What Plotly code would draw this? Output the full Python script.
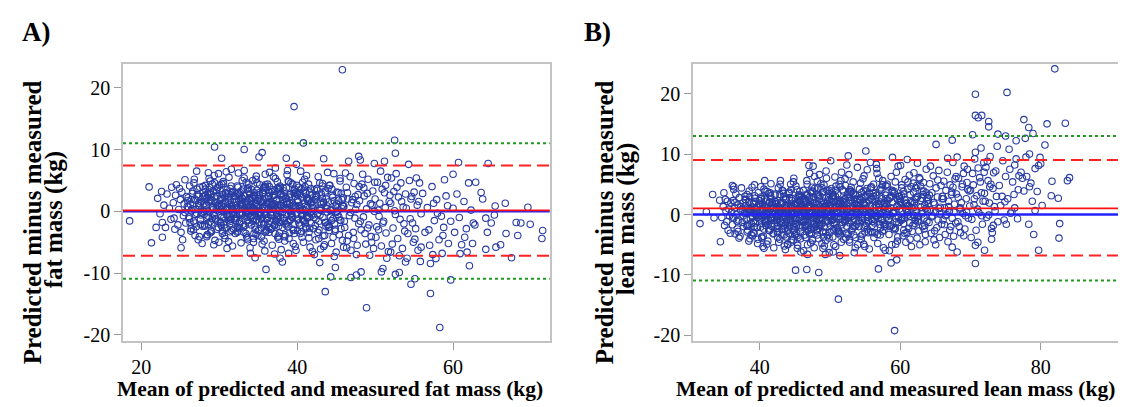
import plotly.graph_objects as go

# ---------------- Panel A: fat mass (mean, difference) ----------------
fat_x = [
 22.1,22.4,22.6,22.9,23.1,23.3,23.6,23.8,23.9,22.7,
 24.1,24.2,24.4,24.5,24.7,24.8,25.0,25.1,25.2,25.4,25.5,25.6,25.7,25.8,25.9,24.3,24.9,25.3,25.6,25.95,
 26.0,26.1,26.2,26.3,26.4,26.5,26.6,26.7,26.8,26.9,27.0,27.1,27.2,27.3,27.4,27.5,27.6,27.7,27.8,27.9,26.15,26.45,26.75,27.05,27.35,27.65,27.95,26.35,26.85,27.45,
 28.0,28.1,28.2,28.3,28.4,28.5,28.6,28.7,28.8,28.9,29.0,29.1,29.2,29.3,29.4,29.5,29.6,29.7,29.8,29.9,28.05,28.25,28.45,28.65,28.85,29.05,29.25,29.45,29.65,29.85,28.15,28.35,28.55,28.75,28.95,29.15,29.35,29.55,29.75,29.95,
 30.0,30.1,30.2,30.3,30.4,30.5,30.6,30.7,30.8,30.9,31.0,31.1,31.2,31.3,31.4,31.5,31.6,31.7,31.8,31.9,30.05,30.25,30.45,30.65,30.85,31.05,31.25,31.45,31.65,31.85,30.15,30.35,30.55,30.75,30.95,31.15,31.35,31.55,31.75,31.95,30.4,30.8,31.2,31.6,31.0,
 32.0,32.1,32.2,32.3,32.4,32.5,32.6,32.7,32.8,32.9,33.0,33.1,33.2,33.3,33.4,33.5,33.6,33.7,33.8,33.9,32.05,32.25,32.45,32.65,32.85,33.05,33.25,33.45,33.65,33.85,32.15,32.35,32.55,32.75,32.95,33.15,33.35,33.55,33.75,33.95,32.2,32.6,33.0,33.4,33.8,32.4,32.8,33.2,33.6,33.9,
 34.0,34.1,34.2,34.3,34.4,34.5,34.6,34.7,34.8,34.9,35.0,35.1,35.2,35.3,35.4,35.5,35.6,35.7,35.8,35.9,34.05,34.25,34.45,34.65,34.85,35.05,35.25,35.45,35.65,35.85,34.15,34.35,34.55,34.75,34.95,35.15,35.35,35.55,35.75,35.95,34.2,34.6,35.0,35.4,35.8,34.4,34.8,35.2,35.6,34.0,34.5,35.1,35.5,35.9,34.3,
 36.0,36.1,36.2,36.3,36.4,36.5,36.6,36.7,36.8,36.9,37.0,37.1,37.2,37.3,37.4,37.5,37.6,37.7,37.8,37.9,36.05,36.25,36.45,36.65,36.85,37.05,37.25,37.45,37.65,37.85,36.15,36.35,36.55,36.75,36.95,37.15,37.35,37.55,37.75,37.95,36.2,36.6,37.0,37.4,37.8,36.4,36.8,37.2,37.6,36.0,36.5,37.1,37.5,37.9,36.3,
 38.0,38.1,38.2,38.3,38.4,38.5,38.6,38.7,38.8,38.9,39.0,39.1,39.2,39.3,39.4,39.5,39.6,39.7,39.8,39.9,38.05,38.25,38.45,38.65,38.85,39.05,39.25,39.45,39.65,39.85,38.15,38.35,38.55,38.75,38.95,39.15,39.35,39.55,39.75,39.95,38.2,38.6,39.0,39.4,39.8,38.4,38.8,39.2,39.6,38.9,
 40.0,40.1,40.2,40.3,40.4,40.5,40.6,40.7,40.8,40.9,41.0,41.1,41.2,41.3,41.4,41.5,41.6,41.7,41.8,41.9,40.05,40.25,40.45,40.65,40.85,41.05,41.25,41.45,41.65,41.85,40.15,40.35,40.55,40.75,40.95,41.15,41.35,41.55,41.75,41.95,40.4,40.8,41.2,41.6,41.0,
 42.0,42.1,42.2,42.3,42.4,42.5,42.6,42.7,42.8,42.9,43.0,43.1,43.2,43.3,43.4,43.5,43.6,43.7,43.8,43.9,42.05,42.35,42.65,42.95,43.25,43.55,43.85,42.2,42.5,42.8,43.1,43.4,43.7,42.4,42.9,43.3,43.6,43.95,
 44.0,44.1,44.2,44.3,44.4,44.5,44.6,44.7,44.8,44.9,45.0,45.1,45.2,45.3,45.4,45.5,45.6,45.7,45.8,45.9,44.15,44.45,44.75,45.05,45.35,45.65,45.95,44.3,44.9,45.5,45.8,44.6,
 46.0,46.1,46.3,46.4,46.5,46.7,46.8,46.9,47.0,47.2,47.3,47.4,47.5,47.7,47.8,47.9,46.2,46.6,47.1,47.6,46.05,46.45,46.85,47.25,47.65,47.95,46.35,47.45,
 48.0,48.2,48.3,48.5,48.6,48.8,48.9,49.1,49.2,49.4,49.5,49.7,49.8,49.9,48.1,48.4,48.7,49.0,49.3,49.6,48.55,49.05,49.55,49.95,
 50.0,50.2,50.3,50.5,50.6,50.8,50.9,51.1,51.3,51.4,51.6,51.7,51.9,50.1,50.4,50.7,51.0,51.2,51.5,51.8,50.45,51.35,
 52.0,52.1,52.3,52.4,52.6,52.7,52.9,53.0,53.2,53.3,53.5,53.6,53.8,53.9,52.2,52.5,52.8,53.1,53.4,53.7,
 54.0,54.2,54.4,54.5,54.7,54.9,55.0,55.2,55.4,55.5,55.7,55.9,54.1,54.6,55.1,55.6,54.8,55.3,
 56.1,56.4,56.7,57.0,57.3,57.6,57.9,58.2,58.5,58.8,59.1,59.4,59.7,56.9,57.5,58.0,58.7,59.3,
 60.2,60.5,60.8,61.1,61.4,61.7,62.0,62.3,62.6,62.9,60.0,61.5,
]
fat_y = [
 2.1,-0.4,3.2,1.0,-2.6,2.8,0.5,-1.3,3.9,-1.8,
 1.4,-1.1,2.6,4.3,-2.2,0.3,1.9,-3.4,3.1,-0.7,1.2,5.1,-1.9,2.4,0.8,-2.9,3.7,-4.6,-0.2,1.7,
 2.2,-0.9,4.1,1.1,-2.8,0.4,3.3,-1.6,5.2,-3.9,1.8,-0.3,2.7,-4.6,0.9,3.9,-2.1,1.5,-5.2,2.4,-1.2,0.1,4.6,-2.5,1.3,-0.6,3.0,-3.2,2.0,-4.1,
 1.2,-2.4,3.6,0.2,-4.1,2.8,-0.8,5.3,-1.7,1.9,-3.3,4.4,0.6,-5.4,2.3,-1.2,3.0,-2.9,0.9,6.1,-0.5,2.6,-3.8,1.4,4.9,-1.9,0.3,-4.7,3.4,1.0,-2.2,2.0,-0.1,3.9,-3.1,0.7,5.8,-1.4,2.5,-5.0,
 0.8,3.4,-1.9,2.1,-3.6,4.8,0.1,-2.7,1.6,6.4,-0.6,2.9,-4.9,1.1,3.7,-1.3,0.4,-5.6,2.5,-0.2,4.2,-2.3,1.3,-3.9,2.8,0.6,5.5,-1.6,3.2,-2.9,1.9,-0.9,4.5,-4.4,0.2,2.3,-2.0,6.8,-0.4,1.5,-3.2,3.0,-1.1,0.9,-6.0,
 2.4,-1.5,0.6,4.1,-3.2,1.7,-0.3,3.0,-5.1,2.2,0.9,-2.5,5.4,-0.8,1.4,-4.0,3.6,0.0,-1.9,2.7,-3.6,1.0,6.2,-0.5,3.3,-2.1,0.4,4.7,-4.6,1.9,-1.2,2.9,-2.8,0.7,5.0,-3.4,1.6,-0.9,3.8,-5.9,0.3,-1.7,2.0,-0.2,4.4,-2.6,1.2,6.6,-4.3,0.5,
 1.1,-2.2,3.5,0.3,-4.4,2.6,-0.7,5.2,-1.4,0.8,-3.1,2.0,4.3,-0.1,1.6,-5.3,3.1,-2.0,0.5,6.0,-1.0,2.3,-3.6,1.3,4.6,-0.4,0.9,-2.7,3.4,-6.4,1.8,-1.6,0.0,5.7,-3.9,2.7,-0.6,1.5,-4.8,3.9,0.6,-2.4,2.1,-1.2,4.0,-5.0,1.0,-0.3,2.8,-6.8,3.0,-1.8,0.2,-3.4,5.0,
 2.0,-1.3,4.4,0.5,-3.4,1.5,-0.2,3.2,-5.5,2.6,0.7,-2.3,5.3,-0.9,1.9,-4.2,3.7,0.1,-1.8,2.9,-3.0,1.2,6.3,-0.6,3.5,-2.2,0.4,4.8,-4.5,1.0,-1.1,2.4,-2.9,0.9,5.6,-3.6,1.7,-0.8,3.9,-6.2,0.3,-1.6,2.2,-0.3,4.1,-2.6,1.1,7.0,-4.0,-0.5,3.0,-6.9,0.6,-1.0,2.5,
 0.9,-2.6,3.8,1.4,-4.1,2.1,-0.5,5.9,-1.7,0.2,-3.5,2.7,4.6,-0.9,1.3,-5.2,3.3,-2.1,0.6,7.6,-0.2,2.5,-3.8,1.6,4.9,-1.3,0.0,-2.9,3.6,-6.3,1.9,-1.5,0.4,6.6,-4.4,2.8,-0.7,1.0,-5.7,4.2,0.7,-2.2,2.3,-1.0,3.1,-4.8,1.2,-0.4,2.9,-6.8,
 1.8,-1.4,3.9,0.4,-3.6,2.3,-0.6,4.7,-5.0,1.2,0.1,-2.5,5.8,-1.1,2.0,-4.3,3.1,-0.2,-1.9,2.6,-3.1,0.9,6.5,-0.7,3.4,-2.0,0.6,4.4,-5.8,1.5,-1.2,2.9,-3.3,0.3,5.2,-2.8,1.7,-0.9,3.7,-6.5,0.7,-1.5,2.2,-0.3,4.0,
 0.6,-2.8,3.5,1.9,-4.6,2.4,-0.4,5.6,-1.6,0.2,-6.1,2.8,4.1,-1.0,1.4,-5.4,3.0,-2.4,0.9,6.3,-0.6,2.2,-3.4,1.5,4.5,-1.8,-0.1,-7.0,3.7,-3.0,1.1,-5.7,2.0,-1.3,0.5,-4.0,3.3,-2.2,
 1.5,-3.1,4.2,0.3,-5.2,2.6,-1.2,6.1,-2.0,0.9,-6.6,3.1,-0.5,1.8,-3.8,4.9,-1.5,0.5,-4.7,2.2,-2.5,3.6,-7.3,1.2,-0.9,2.9,-5.8,0.1,-2.9,5.3,1.0,-4.2,
 0.8,-2.6,3.9,-4.8,2.0,-0.7,5.6,-6.3,1.4,-3.4,4.5,-1.1,0.3,-5.5,2.7,-2.0,6.2,-3.9,1.9,-7.0,-1.6,3.0,-0.2,-4.4,1.1,4.0,-5.9,2.4,
 1.7,-3.0,4.4,-0.9,2.5,-5.3,0.4,5.2,-2.2,1.2,-4.1,3.3,-6.0,0.0,-1.6,6.0,-3.6,2.9,-7.1,1.0,3.8,-2.7,-5.0,4.7,
 2.0,-2.5,4.7,-0.8,1.3,-5.6,3.6,-1.6,0.6,-3.5,5.5,-6.5,2.6,-4.2,0.2,6.5,-1.9,3.0,-7.6,1.6,-3.0,4.2,
 1.3,5.4,-2.7,3.2,-0.5,6.1,-4.4,2.3,-1.3,4.6,-6.0,0.7,-3.2,2.8,-5.3,0.1,3.9,-7.2,1.6,-2.0,
 0.5,-3.6,5.0,-1.2,2.4,-5.0,3.1,-2.8,1.0,-6.3,4.6,-0.4,-7.6,2.0,-4.5,1.6,-1.9,5.4,
 2.9,-3.4,0.6,-5.5,4.0,-1.5,1.9,-4.6,-0.8,-2.6,2.5,-5.2,-1.6,-3.0,1.3,-0.3,-3.9,0.9,
 -3.4,2.8,-1.0,-5.4,1.6,-2.8,4.6,0.2,-1.9,4.7,0.5,-4.2,
]
# extra points of the dense central cloud
fat_x_dense = [
 26.05,26.25,26.55,26.95,27.15,27.55,27.85,28.02,28.22,28.42,28.62,28.82,29.02,29.22,29.42,29.62,29.82,26.4,26.7,27.0,27.3,27.6,27.9,28.3,28.6,28.9,29.2,29.5,29.8,26.9,27.4,27.8,28.1,28.5,28.8,29.1,29.4,29.7,29.9,28.7,
 30.02,30.22,30.42,30.62,30.82,31.02,31.22,31.42,31.62,31.82,32.02,32.22,32.42,32.62,32.82,33.02,33.22,33.42,33.62,33.82,30.12,30.32,30.52,30.72,30.92,31.12,31.32,31.52,31.72,31.92,32.12,32.32,32.52,32.72,32.92,33.12,33.32,33.52,33.72,33.92,30.6,31.1,31.7,32.3,32.9,33.5,30.3,31.4,32.6,33.7,
 34.02,34.22,34.42,34.62,34.82,35.02,35.22,35.42,35.62,35.82,36.02,36.22,36.42,36.62,36.82,37.02,37.22,37.42,37.62,37.82,34.12,34.32,34.52,34.72,34.92,35.12,35.32,35.52,35.72,35.92,36.12,36.32,36.52,36.72,36.92,37.12,37.32,37.52,37.72,37.92,34.6,35.1,35.7,36.3,36.9,37.5,34.3,35.4,36.6,37.7,
 38.02,38.22,38.42,38.62,38.82,39.02,39.22,39.42,39.62,39.82,40.02,40.22,40.42,40.62,40.82,41.02,41.22,41.42,41.62,41.82,38.12,38.32,38.52,38.72,38.92,39.12,39.32,39.52,39.72,39.92,40.12,40.32,40.52,40.72,40.92,41.12,41.32,41.52,41.72,41.92,38.6,39.3,40.1,40.7,41.5,
 42.02,42.32,42.62,42.92,43.22,43.52,43.82,44.12,44.42,44.72,45.02,45.32,45.62,45.92,42.17,42.47,42.77,43.07,43.37,43.67,43.97,44.27,44.57,44.87,45.17,45.47,45.77,42.9,44.0,45.1,
]
fat_y_dense = [
 0.7,-1.8,2.9,-0.5,3.6,1.2,-2.4,0.0,4.2,-1.0,2.2,-3.5,1.7,3.3,-0.7,0.5,-1.6,1.9,-3.0,0.3,2.4,-1.3,4.0,1.0,-2.1,2.7,-0.4,1.4,3.8,-1.9,0.9,-0.2,2.5,-3.8,1.6,-1.1,4.6,0.2,-2.6,3.1,
 1.3,-0.6,2.7,-2.2,0.4,3.5,-1.4,1.8,-3.1,0.1,2.0,-0.9,3.9,-2.0,1.1,-0.3,2.5,-3.6,0.7,3.2,-1.7,0.9,-0.1,2.3,-2.7,1.5,-0.8,4.1,0.3,-1.2,2.8,-3.4,0.5,1.9,-0.6,3.6,-2.3,1.0,-0.4,2.1,-1.0,0.6,3.0,-2.5,1.4,-0.2,4.4,-3.3,2.6,-1.5,
 -0.8,2.2,0.5,-2.9,3.4,-0.2,1.6,-1.9,2.9,0.8,-3.2,1.2,4.0,-0.6,0.3,2.6,-1.5,3.7,-2.4,1.0,0.0,-1.2,2.4,-3.7,1.7,3.0,-0.5,0.7,-2.2,4.3,1.5,-0.9,2.0,-2.8,0.4,3.3,-1.7,1.1,-3.5,2.7,0.2,-0.7,3.8,-2.0,1.3,-1.1,2.1,-4.1,0.9,3.5,
 2.3,-1.1,0.6,3.8,-2.5,1.4,-0.3,4.4,-3.6,0.9,2.7,-1.9,0.1,-4.2,1.8,3.1,-0.7,2.0,-2.7,0.5,-0.1,3.3,-2.0,1.1,4.8,-1.4,0.8,-3.1,2.4,-0.5,1.6,-2.3,3.6,0.2,-1.6,2.9,-0.9,-3.4,1.3,0.0,2.1,-0.4,3.0,-1.3,1.7,
 1.0,-2.3,3.4,-0.6,2.1,-3.9,0.4,4.2,-1.5,1.7,-0.2,3.0,-2.8,0.8,-1.0,2.6,-4.4,0.2,1.5,-1.8,3.7,-0.9,2.3,-3.2,0.6,-1.4,1.9,4.6,-2.6,0.0,
]
fat_out_x = [45.8,39.6,40.8,52.5,29.4,33.2,52.6,35.5,35.1,30.3,
 38.6,47.9,48.1,46.6,43.4,49.9,51.2,54.3,60.7,64.5,
 27.1,28.6,21.0,18.5,21.3,21.9,22.7,25.1,71.5,71.4,
 69.9,69.6,66.7,67.5,68.3,68.1,68.7,66.8,66.1,65.5,
 64.4,64.2,64.9,64.2,65.3,65.4,63.6,63.8,62.1,61.8,
 62.8,62.5,60.9,59.7,60.0,58.9,58.3,57.1,54.6,55.1,
 48.9,43.6,36.0,34.6,37.8,38.1,42.9,44.3,44.9,46.9,
 47.6,48.2,50.8,51.0,52.6,53.1,53.9,57.1,57.4,57.8,
 58.6,52.0,55.9,55.8]
fat_out_y = [22.9,16.95,11.07,11.5,10.4,10.0,9.4,9.5,8.8,8.6,
 8.6,8.9,8.3,8.1,8.5,7.75,8.1,7.6,7.9,7.75,
 6.5,6.25,3.95,-1.55,-5.1,-2.6,-4.2,-5.9,-3.1,-4.4,
 -2.1,0.65,1.3,-7.5,-3.9,-1.8,-1.9,-3.6,-5.4,-5.8,
 -3.4,-6.15,-1.9,-1.1,-0.6,0.85,3.05,2.0,-8.8,-6.6,
 -2.2,-5.2,-6.85,-11.1,6.0,5.1,-18.8,-13.3,-11.8,-10.9,
 -15.6,-13.0,-9.4,-7.5,-7.6,-8.2,-8.3,-10.6,-9.1,-10.7,
 -10.3,-9.8,-9.8,-9.25,-10.2,-9.9,-8.2,-8.45,-7.0,-7.65,
 -6.8,-6.6,-5.8,-8.1]

# ---------------- Panel B: lean mass (mean, difference) ----------------
lean_x = [
 34.6,34.8,35.0,35.2,35.4,35.5,35.7,35.9,34.9,35.3,35.6,35.8,
 36.0,36.1,36.2,36.3,36.4,36.5,36.6,36.7,36.8,36.9,37.0,37.1,37.2,37.3,37.4,37.5,37.6,37.7,37.8,37.9,36.15,36.45,36.75,37.05,37.35,37.65,37.95,36.3,36.9,37.5,
 38.0,38.1,38.2,38.3,38.4,38.5,38.6,38.7,38.8,38.9,39.0,39.1,39.2,39.3,39.4,39.5,39.6,39.7,39.8,39.9,38.05,38.35,38.65,38.95,39.25,39.55,39.85,38.2,38.5,38.8,39.1,39.4,39.7,38.45,39.35,
 40.0,40.1,40.2,40.3,40.4,40.5,40.6,40.7,40.8,40.9,41.0,41.1,41.2,41.3,41.4,41.5,41.6,41.7,41.8,41.9,40.05,40.25,40.45,40.65,40.85,41.05,41.25,41.45,41.65,41.85,40.15,40.35,40.55,40.75,40.95,41.15,41.35,41.55,41.75,41.95,40.6,41.4,
 42.0,42.1,42.2,42.3,42.4,42.5,42.6,42.7,42.8,42.9,43.0,43.1,43.2,43.3,43.4,43.5,43.6,43.7,43.8,43.9,42.05,42.25,42.45,42.65,42.85,43.05,43.25,43.45,43.65,43.85,42.15,42.35,42.55,42.75,42.95,43.15,43.35,43.55,43.75,43.95,42.4,42.8,43.2,43.6,42.0,42.6,43.0,43.8,
 44.0,44.1,44.2,44.3,44.4,44.5,44.6,44.7,44.8,44.9,45.0,45.1,45.2,45.3,45.4,45.5,45.6,45.7,45.8,45.9,44.05,44.25,44.45,44.65,44.85,45.05,45.25,45.45,45.65,45.85,44.15,44.35,44.55,44.75,44.95,45.15,45.35,45.55,45.75,45.95,44.2,44.6,45.0,45.4,45.8,44.4,44.8,45.2,45.6,44.0,44.5,45.3,
 46.0,46.1,46.2,46.3,46.4,46.5,46.6,46.7,46.8,46.9,47.0,47.1,47.2,47.3,47.4,47.5,47.6,47.7,47.8,47.9,46.05,46.25,46.45,46.65,46.85,47.05,47.25,47.45,47.65,47.85,46.15,46.35,46.55,46.75,46.95,47.15,47.35,47.55,47.75,47.95,46.2,46.6,47.0,47.4,47.8,46.4,46.8,47.2,47.6,46.0,46.5,47.1,47.5,47.9,46.3,
 48.0,48.1,48.2,48.3,48.4,48.5,48.6,48.7,48.8,48.9,49.0,49.1,49.2,49.3,49.4,49.5,49.6,49.7,49.8,49.9,48.05,48.25,48.45,48.65,48.85,49.05,49.25,49.45,49.65,49.85,48.15,48.35,48.55,48.75,48.95,49.15,49.35,49.55,49.75,49.95,48.2,48.6,49.0,49.4,49.8,48.4,48.8,49.2,49.6,48.0,48.5,49.1,49.5,49.9,48.3,
 50.0,50.1,50.2,50.3,50.4,50.5,50.6,50.7,50.8,50.9,51.0,51.1,51.2,51.3,51.4,51.5,51.6,51.7,51.8,51.9,50.05,50.25,50.45,50.65,50.85,51.05,51.25,51.45,51.65,51.85,50.15,50.35,50.55,50.75,50.95,51.15,51.35,51.55,51.75,51.95,50.2,50.6,51.0,51.4,51.8,50.4,50.8,51.2,51.6,50.0,
 52.0,52.1,52.2,52.3,52.4,52.5,52.6,52.7,52.8,52.9,53.0,53.1,53.2,53.3,53.4,53.5,53.6,53.7,53.8,53.9,52.05,52.25,52.45,52.65,52.85,53.05,53.25,53.45,53.65,53.85,52.15,52.35,52.55,52.75,52.95,53.15,53.35,53.55,53.75,53.95,52.2,52.6,53.0,53.4,53.8,52.4,52.8,53.6,
 54.0,54.1,54.2,54.3,54.4,54.5,54.6,54.7,54.8,54.9,55.0,55.1,55.2,55.3,55.4,55.5,55.6,55.7,55.8,55.9,54.05,54.25,54.45,54.65,54.85,55.05,55.25,55.45,55.65,55.85,54.15,54.35,54.55,54.75,54.95,55.15,55.35,55.55,55.75,55.95,54.2,54.6,55.0,55.4,55.8,
 56.0,56.1,56.2,56.3,56.4,56.5,56.6,56.7,56.8,56.9,57.0,57.1,57.2,57.3,57.4,57.5,57.6,57.7,57.8,57.9,56.05,56.25,56.45,56.65,56.85,57.05,57.25,57.45,57.65,57.85,56.15,56.35,56.55,56.75,56.95,57.15,57.35,57.55,57.75,57.95,56.6,57.4,
 58.0,58.1,58.2,58.3,58.4,58.5,58.6,58.7,58.8,58.9,59.0,59.1,59.2,59.3,59.4,59.5,59.6,59.7,59.8,59.9,58.05,58.25,58.45,58.65,58.85,59.05,59.25,59.45,59.65,59.85,58.15,58.35,58.55,58.75,58.95,59.15,59.35,59.55,59.75,59.95,
 60.0,60.1,60.2,60.3,60.4,60.5,60.6,60.7,60.8,60.9,61.0,61.1,61.2,61.3,61.4,61.5,61.6,61.7,61.8,61.9,60.05,60.35,60.65,60.95,61.25,61.55,61.85,60.2,60.5,60.8,61.1,61.4,61.7,60.15,60.45,61.05,61.35,61.95,
 62.0,62.1,62.2,62.3,62.4,62.5,62.6,62.7,62.8,62.9,63.0,63.1,63.2,63.3,63.4,63.5,63.6,63.7,63.8,63.9,62.05,62.35,62.65,62.95,63.25,63.55,63.85,62.2,62.5,62.8,63.1,63.4,63.7,62.45,
 64.0,64.1,64.2,64.3,64.4,64.5,64.6,64.7,64.8,64.9,65.0,65.1,65.2,65.3,65.4,65.5,65.6,65.7,65.8,65.9,64.15,64.45,64.75,65.05,65.35,65.65,65.95,64.3,64.9,65.5,
 66.0,66.1,66.2,66.3,66.4,66.5,66.6,66.7,66.8,66.9,67.0,67.1,67.2,67.3,67.4,67.5,67.6,67.7,67.8,67.9,66.15,66.45,66.75,67.05,67.35,67.65,67.95,66.3,66.9,67.5,
 68.0,68.2,68.3,68.5,68.6,68.8,68.9,69.1,69.2,69.4,69.5,69.7,69.8,69.9,68.1,68.4,68.7,69.0,69.3,69.6,68.55,69.05,69.55,68.25,68.85,69.45,
 70.0,70.2,70.3,70.5,70.6,70.8,70.9,71.1,71.2,71.4,71.5,71.7,71.8,71.9,70.1,70.4,70.7,71.0,71.3,71.6,70.55,71.05,71.55,71.95,
 72.0,72.2,72.3,72.5,72.7,72.8,73.0,73.2,73.3,73.5,73.7,73.8,73.9,72.1,72.4,72.6,72.9,73.1,73.4,73.6,72.75,73.25,
 74.1,74.3,74.6,74.8,75.0,75.3,75.5,75.7,76.0,76.2,76.5,76.7,76.9,74.5,75.1,75.6,76.3,76.8,74.9,75.9,
 77.2,77.6,78.0,78.4,78.8,79.2,77.9,78.6,79.5,77.4,
]
lean_y = [
 -0.5,1.3,-1.8,0.6,2.2,-2.6,-0.2,1.9,3.6,-1.2,0.9,-3.1,
 0.4,-1.7,2.3,-0.6,1.1,-3.2,3.4,0.0,-2.4,1.6,-0.9,2.8,-3.6,0.7,4.4,-1.3,1.9,-2.0,0.2,3.0,-0.4,2.0,-1.1,-3.9,1.3,-0.2,2.5,4.6,-2.8,0.9,
 1.5,-0.8,3.3,-2.6,0.4,2.1,-4.0,0.9,-1.5,4.5,-0.3,1.8,-3.1,2.7,0.1,-2.2,1.2,-4.8,3.6,-0.7,2.4,-1.9,0.6,-3.5,4.9,-0.1,1.7,-2.9,3.9,0.3,-1.2,2.2,-0.5,-4.4,1.0,
 0.6,-2.1,2.9,-0.4,1.7,-3.6,4.2,0.0,-1.4,2.2,-4.9,1.1,-0.8,3.5,-2.7,0.8,5.1,-1.0,1.9,-3.2,-0.2,2.6,-5.3,1.3,-1.8,3.8,0.3,-2.4,1.5,-0.6,4.6,-3.9,0.9,-1.2,2.4,-4.4,0.5,3.1,-2.0,1.0,-5.6,2.0,
 1.2,-1.6,3.4,-0.2,0.9,-3.0,2.3,-4.6,0.4,5.0,-1.1,1.8,-2.5,3.9,-0.5,-5.2,1.4,2.7,-3.7,0.1,-0.9,2.1,-2.0,4.4,-4.1,0.7,-1.4,2.9,-5.8,1.5,3.2,-0.3,-2.8,1.0,5.6,-3.4,0.3,-1.9,2.5,-4.9,1.7,-0.7,4.0,-2.3,-5.5,0.2,2.0,-1.2,
 0.8,-2.4,3.7,-0.6,1.5,-4.2,2.6,-1.2,5.4,0.2,-3.3,1.9,-0.1,4.1,-5.1,0.9,-1.8,3.0,-2.9,1.3,-0.4,2.8,-4.6,0.5,6.0,-1.5,1.2,-3.8,2.2,-6.2,3.5,-0.9,0.3,-2.6,1.7,4.7,-5.6,0.0,2.4,-1.1,-3.1,1.0,-0.7,2.0,-4.0,5.0,-2.0,0.6,3.3,-5.0,1.1,-1.6,
 1.4,-1.9,4.0,0.1,-3.4,2.3,-0.8,5.6,-5.0,1.0,-0.3,2.9,-2.2,3.6,0.6,-4.3,1.8,-1.4,6.3,-0.1,2.5,-6.0,0.4,3.2,-2.7,1.3,-4.7,4.5,-0.6,2.0,-1.2,0.8,-3.8,5.0,-0.4,1.6,-2.4,3.9,-5.5,0.3,2.7,-1.7,0.0,-3.1,4.3,1.1,-6.6,2.1,-0.9,3.0,-2.0,6.8,-4.0,0.7,-1.0,
 0.9,-2.5,3.3,1.6,-4.0,2.6,-0.5,5.1,-1.6,0.3,-5.6,3.8,-0.2,1.9,-3.0,6.0,0.6,-1.1,2.8,-6.3,-0.7,4.4,-2.3,1.2,-4.8,2.2,0.0,7.2,-3.5,1.5,-1.4,3.1,-0.9,0.5,-2.9,4.9,-6.6,1.8,-0.3,2.4,5.5,-1.8,0.8,-4.3,3.5,-0.1,2.0,-5.2,1.0,-2.0,6.6,-3.7,0.2,4.0,-1.0,
 1.6,-1.8,4.3,0.2,-3.7,2.9,-0.4,6.2,-5.3,1.1,0.4,3.4,-2.6,5.0,-0.8,2.1,-4.6,1.4,-1.3,3.9,-0.2,2.6,-6.2,0.9,4.7,-2.2,1.8,-3.4,7.0,0.0,-1.0,3.0,-5.0,1.3,-0.6,2.4,-2.9,5.6,0.6,-4.1,3.6,-1.6,0.7,-6.8,2.2,-0.9,4.0,-3.1,1.9,-0.1,
 2.1,-1.2,4.8,0.5,-3.2,3.3,-0.2,6.6,-4.6,1.4,0.0,3.8,-2.3,5.4,-0.7,2.5,-5.5,1.7,-1.6,7.8,0.9,-3.9,2.8,-0.5,4.1,-2.7,1.2,-6.3,3.2,0.3,5.9,-1.9,0.8,-4.2,2.3,-0.3,3.6,-2.0,1.0,-5.0,2.6,-1.0,4.5,-3.4,1.5,8.2,-1.4,0.4,
 1.0,-2.0,4.2,0.6,-3.6,2.8,-0.6,5.9,-4.9,1.7,0.3,3.1,-1.5,7.4,-0.1,2.3,-5.7,1.4,-2.8,4.6,-0.9,2.6,-4.1,0.8,6.4,-1.8,1.9,-3.0,3.5,0.1,-1.2,5.2,-0.4,2.0,-5.3,3.9,-2.4,0.5,8.6,-0.8,1.3,-3.3,2.9,-1.0,4.4,
 2.4,-1.1,5.0,0.4,-3.0,3.6,-0.3,6.8,-4.8,1.6,0.7,4.1,-2.2,2.9,-0.8,5.6,-5.5,1.9,-1.6,3.2,0.0,-3.8,2.2,7.6,-0.6,1.2,4.4,-2.8,0.9,-5.9,3.0,-1.4,1.5,-0.2,6.0,-3.4,2.6,0.3,-2.0,4.8,8.3,-0.9,
 1.8,-1.7,4.6,0.9,-3.3,2.7,-0.2,6.3,-5.0,2.0,0.4,3.5,-2.5,5.4,-0.7,1.3,-4.4,8.0,-1.3,3.0,-0.4,2.4,-6.0,1.1,4.0,-2.2,0.6,7.0,-3.7,1.6,5.0,-0.9,2.8,-1.9,0.2,3.8,-4.9,1.4,-0.5,2.2,
 2.6,-1.0,4.9,0.6,-3.5,3.4,-0.5,5.8,-4.6,1.8,0.3,4.2,-2.3,6.5,-0.3,2.1,-5.3,1.1,-1.8,3.7,8.1,-0.8,2.4,-3.0,1.4,4.6,-0.1,3.1,-2.6,0.9,5.4,-4.1,2.0,-0.7,3.8,1.5,-1.4,6.9,
 1.9,-1.5,4.4,0.7,-3.9,3.0,-0.3,6.1,-5.0,2.3,0.5,3.9,-2.0,5.3,-0.6,1.6,-3.3,7.5,-1.1,2.8,-0.2,4.8,-2.7,1.2,3.3,-4.5,0.8,2.5,-1.2,5.9,0.1,-2.4,3.6,8.5,
 2.4,-1.3,5.1,0.8,-3.1,3.6,-0.2,6.4,-4.2,1.7,0.4,4.4,-2.2,2.9,-0.9,7.3,-3.8,1.2,4.8,-1.6,3.2,-0.4,2.0,-5.0,5.7,0.1,2.6,8.0,-2.7,1.0,
 3.0,-0.9,5.5,1.1,-3.3,4.0,0.0,7.0,-4.5,2.2,0.6,4.9,-2.0,3.3,-0.6,8.6,-3.6,1.7,5.9,-1.4,2.6,-0.2,9.3,-2.6,3.7,0.4,6.3,-1.7,1.3,4.5,
 3.4,-1.2,6.0,0.9,-3.0,4.6,0.2,8.0,-2.4,2.6,5.3,-0.6,3.9,1.4,9.5,-2.0,2.0,6.8,-0.2,4.2,1.1,-3.5,7.5,2.8,5.0,0.4,
 4.0,-0.8,6.8,1.6,9.2,-2.6,3.1,7.7,0.3,5.4,11.0,-1.6,2.2,8.6,-3.8,4.9,10.3,0.9,6.1,-0.2,2.6,-4.6,3.6,7.0,
 3.5,7.8,-0.5,5.6,1.9,9.6,-2.3,4.3,6.9,0.6,3.0,11.3,-1.2,2.2,8.8,-0.1,5.0,-3.0,1.3,7.2,4.6,-1.8,
 4.8,1.5,8.9,-0.9,6.3,2.6,10.8,0.2,5.4,3.3,9.2,-0.7,6.4,3.0,-1.6,7.5,1.1,4.1,2.1,0.5,
 7.0,3.9,6.3,4.6,2.2,7.6,9.5,5.2,3.8,6.0,
]
# extra points of the dense central cloud
lean_x_dense = [
 38.07,38.27,38.47,38.67,38.87,39.07,39.27,39.47,39.67,39.87,40.07,40.27,40.47,40.67,40.87,41.07,41.27,41.47,41.67,41.87,38.17,38.37,38.57,38.77,38.97,39.17,39.37,39.57,39.77,39.97,40.17,40.37,40.57,40.77,40.97,41.17,41.37,41.57,41.77,41.97,38.5,39.2,40.0,40.8,41.6,
 42.07,42.27,42.47,42.67,42.87,43.07,43.27,43.47,43.67,43.87,44.07,44.27,44.47,44.67,44.87,45.07,45.27,45.47,45.67,45.87,42.17,42.37,42.57,42.77,42.97,43.17,43.37,43.57,43.77,43.97,44.17,44.37,44.57,44.77,44.97,45.17,45.37,45.57,45.77,45.97,42.5,43.3,44.1,44.9,45.7,42.9,43.7,44.5,45.3,46.0,
 46.07,46.27,46.47,46.67,46.87,47.07,47.27,47.47,47.67,47.87,48.07,48.27,48.47,48.67,48.87,49.07,49.27,49.47,49.67,49.87,46.17,46.37,46.57,46.77,46.97,47.17,47.37,47.57,47.77,47.97,48.17,48.37,48.57,48.77,48.97,49.17,49.37,49.57,49.77,49.97,46.5,47.3,48.1,48.9,49.7,46.9,47.7,48.5,49.3,50.0,
 50.07,50.27,50.47,50.67,50.87,51.07,51.27,51.47,51.67,51.87,52.07,52.27,52.47,52.67,52.87,53.07,53.27,53.47,53.67,53.87,50.17,50.37,50.57,50.77,50.97,51.17,51.37,51.57,51.77,51.97,52.17,52.37,52.57,52.77,52.97,53.17,53.37,53.57,53.77,53.97,50.5,51.3,52.1,52.9,53.7,
 54.07,54.27,54.47,54.67,54.87,55.07,55.27,55.47,55.67,55.87,56.07,56.27,56.47,56.67,56.87,57.07,57.27,57.47,57.67,57.87,54.17,54.37,54.57,54.77,54.97,55.17,55.37,55.57,55.77,55.97,56.17,56.37,56.57,56.77,56.97,57.17,57.37,57.57,57.77,57.97,
 58.1,58.4,58.7,59.0,59.3,59.6,59.9,60.2,60.5,60.8,61.1,61.4,61.7,62.0,62.3,62.6,62.9,63.2,63.5,63.8,58.25,58.85,59.45,60.05,60.65,61.25,61.85,62.45,63.05,63.65,58.55,59.75,60.95,62.15,63.35,64.0,
]
lean_y_dense = [
 0.3,-1.6,2.0,-0.7,1.2,-3.0,3.1,0.8,-2.1,-0.2,1.7,-3.7,0.6,2.6,-1.2,0.1,-2.6,3.6,-0.5,1.4,-1.9,0.9,2.9,-3.3,-0.3,1.9,-1.4,0.4,-4.1,2.3,-0.9,1.1,-2.4,3.9,0.0,-1.7,2.1,-0.6,1.0,-3.1,0.7,-2.0,1.6,-1.0,2.7,
 -0.4,1.8,-2.3,0.6,3.3,-1.1,0.2,-3.4,2.4,-0.8,1.3,-2.0,4.1,0.0,-1.5,2.7,-3.1,0.9,-0.5,1.6,2.1,-0.9,-3.8,1.2,0.4,-1.9,3.5,-0.2,1.0,-2.7,0.7,-1.3,2.3,-4.2,1.5,-0.6,0.3,3.0,-2.2,1.1,-1.0,2.0,-0.1,-2.9,3.8,0.5,-1.6,1.4,-3.5,0.8,
 0.9,-1.3,2.6,-0.2,1.5,-3.2,3.9,0.4,-2.2,1.1,-0.6,2.9,-1.8,0.0,4.4,-2.9,1.3,-0.9,2.2,-3.9,0.6,1.9,-1.1,3.4,-2.5,0.2,-0.4,2.4,-1.6,1.0,-3.4,0.8,3.1,-0.7,1.7,-2.0,0.3,4.0,-1.4,2.0,-0.3,1.2,-2.7,3.6,0.5,-1.9,2.8,-0.8,1.4,-3.0,
 1.4,-0.9,3.2,0.2,-2.4,2.1,-0.3,4.6,-1.7,0.8,2.6,-3.1,1.0,-0.6,3.7,0.3,-2.0,1.8,-3.8,2.4,-0.1,1.2,-1.3,3.0,0.5,-2.8,2.2,-0.7,4.1,1.5,-1.1,0.6,-3.4,2.8,-0.4,1.9,3.4,-1.9,0.0,2.5,-2.5,1.7,-0.8,3.9,0.9,
 2.0,-0.5,3.6,0.9,-2.1,1.5,4.3,-1.2,0.3,2.7,-3.0,1.1,-0.2,3.2,1.8,-1.6,0.6,4.9,-2.6,1.3,0.1,2.4,-1.0,3.9,-2.9,1.0,-0.4,2.9,0.5,-1.8,3.5,-0.8,1.6,-3.3,2.2,0.0,4.0,-1.4,1.2,2.6,
 1.6,-0.7,3.1,0.4,-2.3,2.5,0.9,4.4,-1.5,1.9,-0.1,3.3,-2.8,1.2,2.8,-0.9,4.7,0.6,-1.8,2.2,0.0,3.7,-1.2,2.0,-3.1,1.4,5.2,-0.4,2.7,1.0,-2.0,3.0,0.7,-1.0,3.9,1.8,
]
lean_out_x = [82.0,70.7,75.2,70.7,71.6,71.1,72.6,72.6,77.6,80.9,
 83.5,78.3,78.9,70.3,73.9,75.0,80.6,76.5,77.8,67.4,
 65.1,55.1,52.6,50.1,47.0,47.6,58.9,61.0,84.1,83.8,
 81.6,81.5,82.5,80.2,79.2,78.3,79.0,79.7,82.7,82.6,
 72.0,70.7,70.7,73.0,68.1,67.4,59.2,51.2,48.4,46.7,
 45.1,56.9,58.7,59.5,31.5,34.4,33.3,34.3,35.1,32.4,
 33.5,36.1,36.3,40.7,80.0,79.7,78.4,79.9,76.3]
lean_out_y = [24.1,19.9,20.2,16.4,16.4,16.0,15.4,14.5,15.7,15.0,
 15.1,14.4,13.4,13.2,13.3,13.0,11.5,12.2,12.6,12.3,
 11.6,10.5,9.7,8.9,8.1,8.0,9.45,9.1,6.1,5.6,
 5.5,3.1,2.7,1.5,0.65,-1.6,-3.3,-5.9,-1.5,-3.9,
 -5.9,-5.1,-8.1,-4.1,-6.2,-5.4,-19.2,-14.0,-9.6,-9.1,
 -9.2,-9.0,-8.0,-7.5,-1.5,-4.5,3.3,2.35,2.5,0.45,
 -0.55,4.8,4.15,5.6,8.4,8.1,10.0,9.45,8.2]

# reference lines: mean bias, limits of agreement, outer limits
fat_lines = {"bias": 0.15, "loa": (-7.2, 7.4), "outer": (-10.9, 11.0)}
lean_lines = {"bias": 1.0, "loa": (-6.8, 9.0), "outer": (-10.9, 13.0)}

fat_xticks = [20, 40, 60]
lean_xticks = [40, 60, 80]
yticks = [-20, -10, 0, 10, 20]
ytick_text = ["-20", "-10", "0", "10", "20"]

for a, b in [(fat_x, fat_y), (fat_x_dense, fat_y_dense), (fat_out_x, fat_out_y),
             (lean_x, lean_y), (lean_x_dense, lean_y_dense), (lean_out_x, lean_out_y)]:
    assert len(a) == len(b), (len(a), len(b))

W, H = 1126, 407
def px(v):
    return v / W
def py(v):
    return 1 - v / H

SERIF = "Liberation Serif, Times New Roman, serif"
MCOL = "#283c a4".replace(" ", "")

fig = go.Figure()
marker = dict(symbol="circle-open", size=6.5, color=MCOL, line=dict(width=1.1, color=MCOL))
fig.add_trace(go.Scatter(x=fat_x + fat_x_dense + fat_out_x, y=fat_y + fat_y_dense + fat_out_y,
                         mode="markers", marker=marker, xaxis="x", yaxis="y",
                         showlegend=False, hoverinfo="skip"))
fig.add_trace(go.Scatter(x=lean_x + lean_x_dense + lean_out_x, y=lean_y + lean_y_dense + lean_out_y,
                         mode="markers", marker=marker, xaxis="x2", yaxis="y2",
                         showlegend=False, hoverinfo="skip"))

axis_style = dict(showline=True, mirror=True, linecolor="#c3c3c3", linewidth=1.5,
                  ticks="outside", ticklen=7, tickwidth=1, tickcolor="#9a9a9a",
                  showgrid=False, zeroline=False,
                  tickfont=dict(family=SERIF, size=20, color="black"))

ydom = [py(337.0), py(56.7)]
fig.update_layout(
    width=W, height=H, margin=dict(l=0, r=0, t=0, b=0),
    paper_bgcolor="white", plot_bgcolor="white",
    font=dict(family=SERIF),
    xaxis=dict(domain=[px(115), px(541.7)], range=[17.65, 72.4], tickvals=fat_xticks, anchor="y", **axis_style),
    yaxis=dict(domain=ydom, range=[-20.96, 23.84], tickvals=yticks, ticktext=ytick_text, anchor="x", **axis_style),
    xaxis2=dict(domain=[px(685), px(1113.3)], range=[30.5, 91.47], tickvals=lean_xticks, anchor="y2", **axis_style),
    yaxis2=dict(domain=ydom, range=[-20.9, 24.9], tickvals=yticks, ticktext=ytick_text, anchor="x2", **axis_style),
)

def add_lines(xr, yr, d):
    common = dict(type="line", xref=xr + " domain", yref=yr, x0=0, x1=1, layer="above")
    for v in d["outer"]:
        fig.add_shape(y0=v, y1=v, line=dict(color="#1f9a1f", width=2, dash="dot"), **common)
    for v in d["loa"]:
        fig.add_shape(y0=v, y1=v, line=dict(color="#ff2222", width=2, dash="12px,6px"), **common)
    fig.add_shape(y0=0, y1=0, line=dict(color="#2222ff", width=2.5), **common)
    b = d["bias"]
    fig.add_shape(y0=b, y1=b, line=dict(color="#ff1111", width=1.8), **common)

add_lines("x", "y", fat_lines)
add_lines("x2", "y2", lean_lines)

def ann(text, x, y, size, angle=0, xanchor="center", yanchor="middle"):
    fig.add_annotation(text=text, x=px(x), y=py(y), xref="paper", yref="paper",
                       showarrow=False, textangle=angle, xanchor=xanchor, yanchor=yanchor,
                       font=dict(family=SERIF, size=size, color="black"))

ann("<b>A)</b>", 12, 24, 27, xanchor="left")
ann("<b>B)</b>", 574, 24, 27, xanchor="left")
ann("<b>Predicted minus measured</b>", 24, 217, 25, angle=-90)
ann("<b>fat mass (kg)</b>", 46, 214, 25, angle=-90)
ann("<b>Predicted minus measured</b>", 596, 217, 25, angle=-90)
ann("<b>lean mass (kg)</b>", 618, 214, 25, angle=-90)
ann("<b>Mean of predicted and measured fat mass (kg)</b>", 322, 386, 21.5)
ann("<b>Mean of predicted and measured lean mass (kg)</b>", 887.5, 386, 21.5)

fig.write_html("out.html")
